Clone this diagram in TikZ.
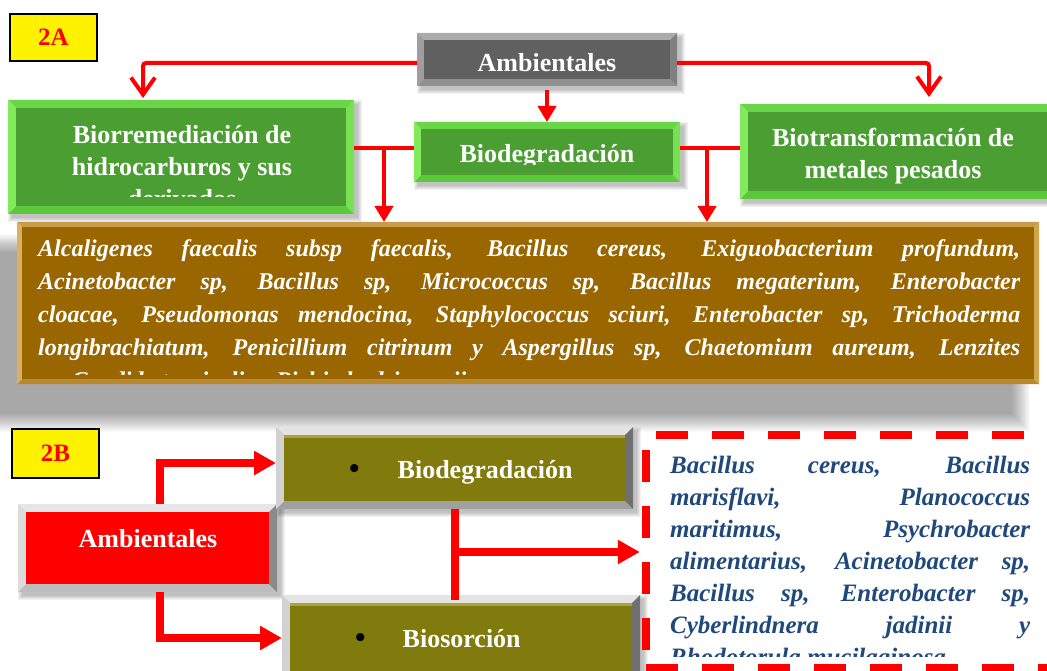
\documentclass[tikz,border=0pt]{standalone}
\usepackage{fontspec}
\setmainfont{Liberation Serif}
\usetikzlibrary{arrows.meta,fit,calc}
% green bevel
\definecolor{grnT}{HTML}{68D646}
\definecolor{grnL}{HTML}{80EC5C}
\definecolor{grnR}{HTML}{76E252}
\definecolor{grnB}{HTML}{5CC83C}
\definecolor{grnI}{HTML}{4A9E32}
% gray bevel
\definecolor{gryT}{HTML}{ABABAB}
\definecolor{gryL}{HTML}{9E9E9E}
\definecolor{gryR}{HTML}{808080}
\definecolor{gryB}{HTML}{909090}
\definecolor{gryI}{HTML}{606060}
% brown bevel
\definecolor{brnT}{HTML}{C89C48}
\definecolor{brnL}{HTML}{DAB062}
\definecolor{brnR}{HTML}{D0A44C}
\definecolor{brnB}{HTML}{B8882C}
\definecolor{brnI}{HTML}{996600}
% red bevel
\definecolor{rdT}{HTML}{E6E6E6}
\definecolor{rdL}{HTML}{DCDCDC}
\definecolor{rdR}{HTML}{8A8A8A}
\definecolor{rdB}{HTML}{BDBDBD}
\definecolor{rdI}{HTML}{FF0000}
% olive bevel
\definecolor{olvT}{HTML}{E4E4E4}
\definecolor{olvL}{HTML}{D2D2D2}
\definecolor{olvR}{HTML}{707070}
\definecolor{olvB}{HTML}{A0A0A0}
\definecolor{olvI}{HTML}{807B0C}
\definecolor{olvH}{HTML}{A8A43A}
\definecolor{navy}{HTML}{1F497D}

\newcommand\bevbox[5]{%
  \node[fit={#2 #3},inner sep=0pt,outer sep=0pt] (#1) {};
  \fill[#5T] (#1.north west) -- (#1.north east) -- ([shift={(-#4,-#4)}]#1.north east) -- ([shift={(#4,-#4)}]#1.north west) -- cycle;
  \fill[#5B] (#1.south west) -- (#1.south east) -- ([shift={(-#4,#4)}]#1.south east) -- ([shift={(#4,#4)}]#1.south west) -- cycle;
  \fill[#5L] (#1.north west) -- ([shift={(#4,-#4)}]#1.north west) -- ([shift={(#4,#4)}]#1.south west) -- (#1.south west) -- cycle;
  \fill[#5R] (#1.north east) -- ([shift={(-#4,-#4)}]#1.north east) -- ([shift={(-#4,#4)}]#1.south east) -- (#1.south east) -- cycle;
  \fill[#5I] ([shift={(#4,-#4)}]#1.north west) rectangle ([shift={(-#4,#4)}]#1.south east);
}
\newcommand\softshadow[6]{%
  \foreach \r in {0,...,#5}{\fill[black,opacity=#6] (#1-\r,#2-\r) rectangle (#3+\r,#4+\r);}%
}

\tikzset{
  lbl/.style={text=white,font=\bfseries\fontsize{26}{32}\selectfont,inner sep=0pt,align=center},
  tagbox/.style={draw=black,line width=1.3pt,fill=yellow,text=red,
    font=\bfseries\fontsize{25}{30}\selectfont,inner sep=0pt},
  redthin/.style={draw=red,line width=4pt},
  redthick/.style={draw=red,line width=8pt,line join=miter},
  barbtip/.tip={Straight Barb[length=17pt,width=24pt]},
  tritip/.tip={Triangle[length=16pt,width=18pt]},
  bigtip/.tip={Triangle[length=22pt,width=23pt]}
}

\begin{document}
\begin{tikzpicture}[x=1pt,y=-1pt]
\useasboundingbox (0,0) rectangle (1047,671);
\fill[white] (0,0) rectangle (1047,671);

% ---------- shadows ----------
\softshadow{-5}{252}{1012}{414}{18}{0.02}
\softshadow{421}{37}{681}{90}{4}{0.05}
\softshadow{12}{104}{358}{218}{4}{0.05}
\softshadow{418}{126}{684}{186}{4}{0.05}
\softshadow{744}{108}{1060}{203}{4}{0.05}
\softshadow{280}{431}{637}{513}{4}{0.05}
\softshadow{22}{508}{281}{596}{4}{0.05}
\softshadow{286}{599}{644}{700}{4}{0.05}

% ---------- panel 2A ----------
\node[tagbox,minimum width=87pt,minimum height=47pt] (tagA) at (53.5,37.5) {2A};

\bevbox{amb}{(417,33)}{(677,86)}{7pt}{gry}
\node[lbl,anchor=base] (ambT) at (547,72) {Ambientales};

\bevbox{bior}{(8,100)}{(354,214)}{8pt}{grn}
\begin{scope}
  \clip (17,108) rectangle (347,197);
  \node[lbl,anchor=north] (biorT) at (182,120.6) {\strut Biorremediación de\\hidrocarburos y sus\\derivados};
\end{scope}

\bevbox{biodeg}{(414,122)}{(680,182)}{7pt}{grn}
\begin{scope}
  \clip (421,128) rectangle (673,165);
  \node[lbl,anchor=base] (biodegT) at (547,163) {Biodegradación};
\end{scope}

\bevbox{biotr}{(740,104)}{(1062,199)}{8pt}{grn}
\node[lbl,anchor=north] (biotrT) at (893,123.6) {\strut Biotransformación de\\metales pesados};

\bevbox{listaA}{(17,222)}{(1039,384)}{5pt}{brn}
\begin{scope}
  \clip (22,227) rectangle (1034,374);
  \node[anchor=north west,inner sep=0pt,text width=982pt,align=justify,text=white,
        font=\bfseries\itshape\fontsize{24}{33}\selectfont] (listaAT) at (38,232.9)
  {\strut Alcaligenes faecalis subsp faecalis, Bacillus cereus, Exiguobacterium profundum,\linebreak
   Acinetobacter sp, Bacillus sp, Micrococcus sp, Bacillus megaterium, Enterobacter\linebreak
   cloacae, Pseudomonas mendocina, Staphylococcus sciuri, Enterobacter sp, Trichoderma\linebreak
   longibrachiatum, Penicillium citrinum y Aspergillus sp, Chaetomium aureum, Lenzites\linebreak
   sp, Candida tropicalis y Pichia kudriavzevii};
\end{scope}

% connectors 2A
\draw[redthin,rounded corners=3pt,-barbtip] ([yshift=-3.5pt]amb.west) -| ([xshift=-38pt,yshift=2pt]bior.north);
\draw[redthin,rounded corners=3pt,-barbtip] ([yshift=-3.5pt]amb.east) -| ([xshift=28pt,yshift=7pt]biotr.north);
\draw[redthin,-tritip] ([yshift=-4pt]amb.south) -- (biodeg.north);
\draw[redthin] ([yshift=9pt]bior.east) -- ([yshift=4pt]biodeg.west);
\coordinate (j1) at ($([yshift=9pt]bior.east)!0.5!([yshift=4pt]biodeg.west)$);
\draw[redthin,-tritip] (j1) -- (j1 |- listaA.north);
\draw[redthin] ([yshift=4pt]biodeg.east) -- ([yshift=3.5pt]biotr.west);
\coordinate (j2) at ($([yshift=4pt]biodeg.east)!0.45!([yshift=3.5pt]biotr.west)$);
\draw[redthin,-tritip] (j2) -- (j2 |- listaA.north);

% ---------- panel 2B ----------
\node[tagbox,minimum width=87pt,minimum height=49pt] (tagB) at (55.5,453.5) {2B};

\bevbox{ambB}{(18,504)}{(277,592)}{8pt}{rd}
\node[lbl,anchor=base] (ambBT) at (148,547) {Ambientales};

\bevbox{biodegB}{(276,427)}{(633,509)}{8pt}{olv}
\fill[olvH] ([shift={(8pt,-8pt)}]biodegB.north west) rectangle ([shift={(-8pt,-11pt)}]biodegB.north east);
\node[lbl,anchor=base west] (biodegBT) at (349,478) {{\fontsize{30}{30}\selectfont\textcolor{black}{•}}\hspace{38pt}Biodegradación};

\bevbox{biosB}{(282,595)}{(640,700)}{8pt}{olv}
\fill[olvH] ([shift={(8pt,-8pt)}]biosB.north west) rectangle ([shift={(-8pt,-11pt)}]biosB.north east);
\node[lbl,anchor=base west] (biosBT) at (355,647) {{\fontsize{30}{30}\selectfont\textcolor{black}{•}}\hspace{37pt}Biosorción};

\node[inner sep=0pt,fit={(646,435) (1052,668)}] (listaB) {};
\draw[red,line width=8pt,dash pattern=on 32pt off 24pt] ([xshift=10pt]listaB.north west) -- (listaB.north east);
\draw[red,line width=8pt,dash pattern=on 32pt off 24pt] (listaB.south west) -- (listaB.south east);
\draw[red,line width=8pt,dash pattern=on 32pt off 24pt] ([yshift=-15pt]listaB.north west) -- (listaB.south west);
\begin{scope}
  \clip (652,440) rectangle (1044,656);
  \node[anchor=north west,inner sep=0pt,text width=360pt,align=justify,text=navy,
        font=\bfseries\itshape\fontsize{25}{32}\selectfont] (listaBT) at (670,450.6)
  {\strut Bacillus cereus, Bacillus\linebreak
   marisflavi, Planococcus\linebreak
   maritimus, Psychrobacter\linebreak
   alimentarius, Acinetobacter sp,\linebreak
   Bacillus sp, Enterobacter sp,\linebreak
   Cyberlindnera jadinii y\linebreak
   Rhodotorula mucilaginosa};
\end{scope}

% connectors 2B
\draw[redthick,-bigtip] ([xshift=12.5pt]ambB.north) |- ([yshift=5pt]biodegB.west);
\draw[redthick,-bigtip] ([xshift=12.5pt]ambB.south) |- ([yshift=9.5pt]biosB.west);
\draw[redthick] (biodegB.south) -- ([yshift=-5pt]biodegB.south |- biosB.north);
\coordinate (j3) at ($(biodegB.south)!0.5!(biodegB.south |- biosB.north)$);
\draw[redthick,-bigtip] (j3) -- ([xshift=-6pt]listaB.west |- j3);
\end{tikzpicture}
\end{document}
